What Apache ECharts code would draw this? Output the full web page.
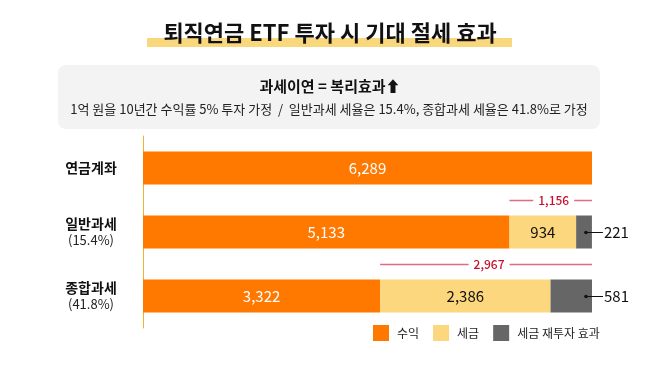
<!DOCTYPE html>
<html><head><meta charset="utf-8">
<script src="https://cdn.jsdelivr.net/npm/echarts@6/dist/echarts.min.js"></script>
<style>html,body{margin:0;padding:0;background:#fff}#c{width:658px;height:370px}</style>
</head><body><div id="c"></div>
<script>
const categories = ['연금계좌', '일반과세', '종합과세'];
const categoryNotes = ['', '(15.4%)', '(41.8%)'];
const profit = [6289, 5133, 3322];
const tax = [null, 934, 2386];
const reinvest = [null, 221, 581];
const taxSaving = [null, 1156, 2967];

const FONT = '"Noto Sans CJK KR", "Noto Sans", sans-serif';
const fmt = v => Number(v).toLocaleString('en-US');
const ctx = document.createElement('canvas').getContext('2d');
function tw(t, font){ ctx.font = font; return ctx.measureText(t).width; }

const dimData = [];
const outData = [];
categories.forEach((c, i) => {
  if (taxSaving[i] != null) {
    const total = profit[i] + (tax[i] || 0) + (reinvest[i] || 0);
    dimData.push([profit[i], total, i, taxSaving[i]]);
  }
  if (reinvest[i] != null) {
    const total = profit[i] + (tax[i] || 0) + reinvest[i];
    outData.push([total, i, reinvest[i]]);
  }
});

const chart = echarts.init(document.getElementById('c'));
chart.setOption({
  backgroundColor: '#fff',
  animation: false,
  textStyle: { fontFamily: FONT },
  graphic: [
    { type: 'rect', shape: { x: 147, y: 38, width: 365, height: 9 }, style: { fill: '#F9D77C' }, z: 0 },
    { type: 'text', x: 330, y: 33, style: { text: '퇴직연금 ETF 투자 시 기대 절세 효과', font: 'bold 22px ' + FONT, fill: '#111', align: 'center', verticalAlign: 'middle' }, z: 1 },
    { type: 'rect', shape: { x: 58, y: 65, width: 542, height: 64, r: 8 }, style: { fill: '#F3F3F3' }, z: 0 },
    { type: 'text', x: 330, y: 86, style: { text: '과세이연 = 복리효과⬆', font: 'bold 15px ' + FONT, fill: '#111', align: 'center', verticalAlign: 'middle' }, z: 1 },
    { type: 'text', x: 329, y: 109, style: { text: '1억 원을 10년간 수익률 5% 투자 가정  /  일반과세 세율은 15.4%, 종합과세 세율은 41.8%로 가정', font: '13px ' + FONT, fill: '#222', align: 'center', verticalAlign: 'middle' }, z: 1 }
  ],
  legend: {
    left: 373, top: 325, padding: 0, itemWidth: 16, itemHeight: 16, itemGap: 14, icon: 'rect',
    data: ['수익', '세금', '세금 재투자 효과'],
    textStyle: { fontSize: 12, color: '#222', fontFamily: FONT, padding: [0, 0, 0, 3] }
  },
  grid: { left: 143, right: 66, top: 136, height: 192, containLabel: false },
  xAxis: { type: 'value', min: 0, max: 6289, show: false },
  yAxis: {
    type: 'category', data: categories, inverse: true,
    axisLine: { show: true, lineStyle: { color: '#EDB23A', width: 1 } },
    axisTick: { show: false },
    axisLabel: {
      margin: 52, align: 'center',
      formatter: (v, i) => categoryNotes[i] ? '{b|' + v + '}\n{n|' + categoryNotes[i] + '}' : '{b|' + v + '}',
      rich: {
        b: { fontSize: 14, fontWeight: 'bold', color: '#111', fontFamily: FONT, lineHeight: 17, align: 'center' },
        n: { fontSize: 13, color: '#222', fontFamily: FONT, lineHeight: 17, align: 'center' }
      }
    }
  },
  series: [
    { name: '수익', type: 'bar', stack: 't', barWidth: 33, data: profit, itemStyle: { color: '#FF7800' },
      label: { show: true, position: 'inside', color: '#fff', fontSize: 15, fontFamily: FONT, formatter: p => fmt(p.value) } },
    { name: '세금', type: 'bar', stack: 't', barWidth: 33, data: tax, itemStyle: { color: '#FDD77D' },
      label: { show: true, position: 'inside', color: '#111', fontSize: 15, fontFamily: FONT, formatter: p => p.value == null ? '' : fmt(p.value) } },
    { name: '세금 재투자 효과', type: 'bar', stack: 't', barWidth: 33, data: reinvest, itemStyle: { color: '#666666' } },
    { type: 'custom', name: 'dim', data: dimData, z: 5, silent: true,
      renderItem: (params, api) => {
        const i = api.value(2);
        const p1 = api.coord([api.value(0), i]);
        const p2 = api.coord([api.value(1), i]);
        const band = api.size([0, 1])[1];
        const y = Math.round(p1[1] - band / 2) + 0.5;
        const text = fmt(api.value(3));
        const font = '500 12px ' + FONT;
        const w = tw(text, font);
        const mid = (p1[0] + p2[0]) / 2 + 3;
        const ls = { stroke: '#E26A84', lineWidth: 1.5 };
        return { type: 'group', children: [
          { type: 'line', shape: { x1: p1[0], y1: y, x2: mid - w / 2 - 5, y2: y }, style: ls },
          { type: 'line', shape: { x1: mid + w / 2 + 5, y1: y, x2: p2[0], y2: y }, style: ls },
          { type: 'text', x: mid, y: y, style: { text: text, font: font, fill: '#C8102E', align: 'center', verticalAlign: 'middle' } }
        ] };
      } },
    { type: 'custom', name: 'out', data: outData, z: 5, silent: true,
      renderItem: (params, api) => {
        const p = api.coord([api.value(0), api.value(1)]);
        const y = Math.round(p[1]) + 0.5;
        return { type: 'group', children: [
          { type: 'circle', shape: { cx: p[0] - 6, cy: y, r: 1.8 }, style: { fill: '#111' } },
          { type: 'line', shape: { x1: p[0] - 6, y1: y, x2: p[0] + 11, y2: y }, style: { stroke: '#111', lineWidth: 1 } },
          { type: 'text', x: p[0] + 12, y: y, style: { text: fmt(api.value(2)), font: '15px ' + FONT, fill: '#111', align: 'left', verticalAlign: 'middle' } }
        ] };
      } }
  ]
});
</script></body></html>
